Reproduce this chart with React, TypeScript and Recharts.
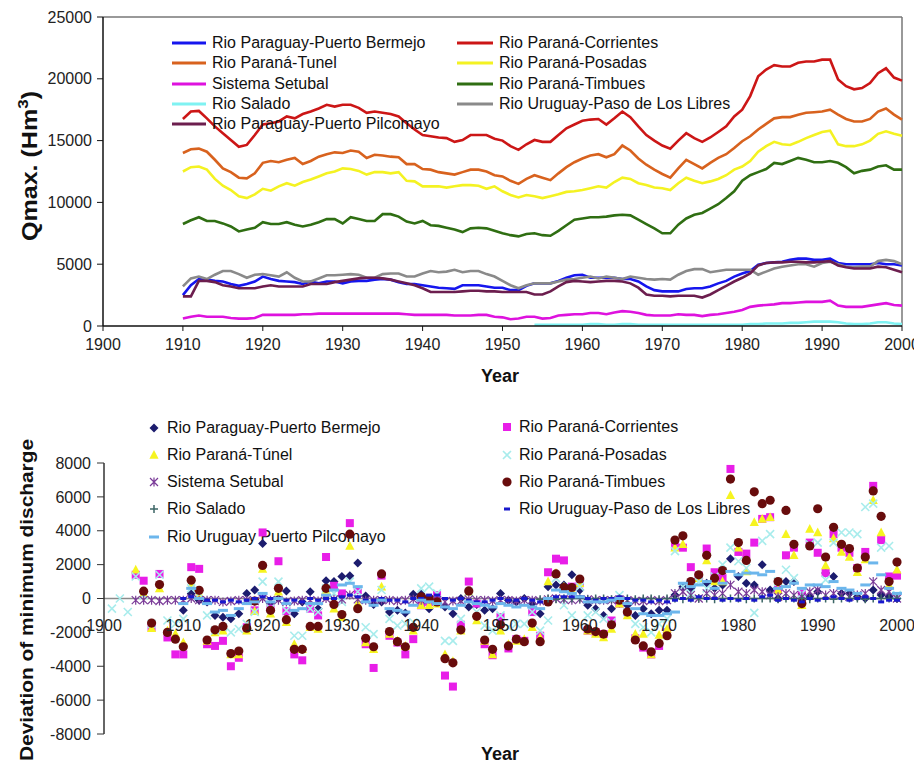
import React from 'react';
import {
  LineChart,
  Line,
  XAxis,
  YAxis,
  ReferenceLine,
  ScatterChart,
  Scatter,
  Label,
} from 'recharts';

const FONT = '"Liberation Sans", Arial, Helvetica, sans-serif';

// ---------- Upper panel: maximum discharge (Hm3), 1910-2000 ----------
const qYears = [
  1910, 1911, 1912, 1913, 1914, 1915, 1916, 1917, 1918, 1919,
  1920, 1921, 1922, 1923, 1924, 1925, 1926, 1927, 1928, 1929,
  1930, 1931, 1932, 1933, 1934, 1935, 1936, 1937, 1938, 1939,
  1940, 1941, 1942, 1943, 1944, 1945, 1946, 1947, 1948, 1949,
  1950, 1951, 1952, 1953, 1954, 1955, 1956, 1957, 1958, 1959,
  1960, 1961, 1962, 1963, 1964, 1965, 1966, 1967, 1968, 1969,
  1970, 1971, 1972, 1973, 1974, 1975, 1976, 1977, 1978, 1979,
  1980, 1981, 1982, 1983, 1984, 1985, 1986, 1987, 1988, 1989,
  1990, 1991, 1992, 1993, 1994, 1995, 1996, 1997, 1998, 1999,
  2000,
];

const qBermejo = [
  2500, 3300, 3800, 3750, 3650, 3600, 3400, 3250, 3400, 3600,
  4000, 3800, 3650, 3600, 3550, 3400, 3600, 3450, 3600, 3600,
  3450, 3600, 3650, 3650, 3750, 3800, 3750, 3550, 3400, 3400,
  3300, 3200, 3100, 3050, 3000, 3300, 3300, 3300, 3200, 3100,
  3100, 2900, 2900, 3250, 3450, 3450, 3450, 3650, 3900, 4100,
  4150, 3900, 3900, 3900, 3900, 3800, 3800, 3600, 3200, 2900,
  2800, 2800, 2800, 3000, 3050, 3050, 3200, 3450, 3650, 4000,
  4250, 4450, 4950, 5100, 5150, 5200, 5350, 5450, 5450, 5350,
  5350, 5450, 5100, 5000, 5000, 5000, 5000, 5100, 5000, 5000,
  4900,
];

const qCorrientes = [
  16750, 17350, 17400, 16800, 16150, 15600, 15050, 14500, 14650, 15450,
  16300, 16400, 16550, 16950, 16800, 17150, 17350, 17600, 17900, 17750,
  17900, 17900, 17650, 17250, 17350, 17250, 17150, 16950, 16400, 15900,
  15450, 15350, 15250, 15200, 14900, 15050, 15450, 15450, 15450, 15150,
  15000, 14550, 14250, 14700, 15050, 14900, 14900, 15450, 16000, 16300,
  16600, 16700, 16750, 16300, 16800, 17350, 16900, 16150, 15450, 15000,
  14600, 14350, 15000, 15600, 15200, 14900, 15250, 15700, 16150, 16950,
  17500, 18600, 20200, 20750, 21100, 21000, 21000, 21300, 21400, 21400,
  21550, 21550, 19950, 19400, 19150, 19250, 19650, 20450, 20850, 20100,
  19850,
];

const qTunel = [
  14000, 14300, 14350, 14100, 13450, 12750, 12450, 12000, 11950, 12350,
  13200, 13350, 13250, 13450, 13600, 13100, 13350, 13700, 13900, 14050,
  14000, 14200, 14100, 13600, 13850, 13800, 13700, 13650, 13100, 13100,
  12700, 12650, 12450, 12350, 12250, 12450, 12650, 12650, 12500, 12200,
  12100, 11750, 11500, 11900, 12200, 12000, 11800, 12350, 12850, 13250,
  13550, 13800, 13900, 13650, 13900, 14600, 14200, 13550, 13050, 12650,
  12300, 12000, 12750, 13450, 13100, 12750, 13200, 13600, 13900, 14400,
  14950, 15350, 15900, 16350, 16800, 16900, 16900, 17100, 17250, 17300,
  17350, 17500, 17100, 16750, 16550, 16550, 16750, 17350, 17600, 17100,
  16700,
];

const qPosadas = [
  12500, 12850, 12900, 12650, 11900, 11350, 11000, 10500, 10350, 10650,
  11100, 10950, 11300, 11550, 11350, 11650, 11850, 12100, 12350, 12500,
  12750, 12700, 12550, 12250, 12450, 12450, 12350, 12450, 11750, 11700,
  11300, 11300, 11300, 11200, 11300, 11400, 11400, 11350, 11100, 11300,
  10900, 10600, 10400, 10600, 10500, 10350, 10500, 10650, 10850, 10900,
  11000, 11150, 11300, 11200, 11650, 12000, 11900, 11550, 11400, 11200,
  11150, 11000, 11550, 12000, 11750, 11550, 11700, 11900, 12200, 12650,
  12900, 13350, 14100, 14550, 14900, 14700, 14650, 14900, 15200, 15450,
  15700, 15800, 14700, 14550, 14550, 14700, 15000, 15550, 15750, 15550,
  15400,
];

const qSetubal = [
  600, 750, 850, 750, 750, 750, 650, 600, 600, 650,
  900, 900, 900, 900, 900, 950, 950, 1000, 1000, 1000,
  1000, 1000, 1000, 1000, 1000, 1000, 1000, 1000, 950, 900,
  900, 900, 900, 900, 850, 850, 850, 900, 900, 750,
  700, 550, 600, 750, 750, 600, 650, 850, 900, 950,
  950, 1050, 1050, 950, 1100, 1200, 1150, 1050, 900, 850,
  850, 850, 950, 900, 900, 800, 900, 950, 1050, 1150,
  1300, 1550, 1650, 1700, 1750, 1850, 1850, 1900, 1950, 1950,
  1950, 2050, 1650, 1550, 1550, 1550, 1650, 1750, 1850, 1700,
  1650,
];

const qTimbues = [
  8250, 8550, 8800, 8500, 8500, 8300, 8050, 7650, 7800, 7950,
  8400, 8250, 8250, 8400, 8200, 8050, 8200, 8400, 8650, 8650,
  8300, 8800, 8650, 8500, 8500, 9050, 9050, 8850, 8450, 8300,
  8500, 8150, 8100, 7950, 7800, 7600, 7900, 7950, 7900, 7700,
  7500, 7350, 7250, 7450, 7500, 7350, 7300, 7700, 8150, 8600,
  8700, 8800, 8800, 8850, 8950, 9000, 8950, 8600, 8250, 7900,
  7500, 7500, 8200, 8700, 9000, 9150, 9500, 9850, 10350, 10900,
  11750, 12200, 12450, 12700, 13200, 13100, 13350, 13600, 13450, 13250,
  13250, 13350, 13200, 12850, 12350, 12550, 12650, 12900, 13000, 12650,
  12650,
];

const qSalado = [
  null, null, null, null, null, null, null, null, null, null,
  null, null, null, null, null, null, null, null, null, null,
  null, null, null, null, null, null, null, null, null, null,
  null, null, null, null, null, null, null, null, null, null,
  null, null, null, null, 100, 100, 100, 100, 100, 100,
  100, 150, 150, 100, 100, 150, 150, 100, 100, 100,
  100, 100, 100, 100, 100, 100, 100, 100, 100, 100,
  100, 150, 150, 200, 200, 200, 250, 250, 300, 350,
  350, 350, 300, 200, 150, 150, 200, 300, 300, 200,
  150,
];

const qUruguay = [
  3200, 3850, 4000, 3800, 4150, 4450, 4450, 4200, 3900, 4150,
  4200, 4100, 4000, 4350, 3900, 3600, 3600, 3850, 4100, 4100,
  4150, 4200, 4150, 3900, 3900, 4200, 4250, 4250, 4000, 4000,
  4250, 4450, 4350, 4400, 4550, 4350, 4450, 4450, 4200, 4000,
  3650, 3300, 3050, 3300, 3450, 3450, 3450, 3600, 3750, 3800,
  3900, 4000, 3850, 4000, 3900, 3800, 4000, 3900, 3800, 3750,
  3800, 3750, 4150, 4450, 4600, 4600, 4350, 4450, 4550, 4550,
  4550, 4550, 4150, 4400, 4650, 4800, 4900, 5000, 5000, 4800,
  5100, 5200, 5000, 4800, 4750, 4800, 4800, 5250, 5350, 5250,
  5000,
];

const qPilcomayo = [
  2400, 2400, 3650, 3650, 3550, 3300, 3200, 3050, 3050, 3050,
  3200, 3300, 3200, 3200, 3200, 3200, 3400, 3400, 3400, 3550,
  3650, 3750, 3850, 3900, 3900, 3850, 3750, 3600, 3450, 3300,
  3050, 2750, 2750, 2750, 2750, 2800, 2850, 2850, 2800, 2800,
  2750, 2750, 2750, 2750, 2550, 2550, 2800, 3200, 3550, 3650,
  3600, 3550, 3600, 3650, 3650, 3600, 3450, 3100, 2550, 2450,
  2450, 2400, 2450, 2450, 2450, 2300, 2550, 2900, 3250, 3600,
  3900, 4250, 4900, 5100, 5150, 5150, 5200, 5200, 5150, 5150,
  5200, 5250, 4900, 4750, 4650, 4650, 4650, 4800, 4750, 4550,
  4350,
];

const qTicksX = [1900, 1910, 1920, 1930, 1940, 1950, 1960, 1970, 1980, 1990, 2000];
const qTicksY = [0, 5000, 10000, 15000, 20000, 25000];

// ---------- Lower panel: deviation of minimum discharge, 1901-2000 ----------
const devYears = [
  1901, 1902, 1903, 1904, 1905, 1906, 1907, 1908, 1909,
  1910, 1911, 1912, 1913, 1914, 1915, 1916, 1917, 1918, 1919,
  1920, 1921, 1922, 1923, 1924, 1925, 1926, 1927, 1928, 1929,
  1930, 1931, 1932, 1933, 1934, 1935, 1936, 1937, 1938, 1939,
  1940, 1941, 1942, 1943, 1944, 1945, 1946, 1947, 1948, 1949,
  1950, 1951, 1952, 1953, 1954, 1955, 1956, 1957, 1958, 1959,
  1960, 1961, 1962, 1963, 1964, 1965, 1966, 1967, 1968, 1969,
  1970, 1971, 1972, 1973, 1974, 1975, 1976, 1977, 1978, 1979,
  1980, 1981, 1982, 1983, 1984, 1985, 1986, 1987, 1988, 1989,
  1990, 1991, 1992, 1993, 1994, 1995, 1996, 1997, 1998, 1999,
  2000,
];

const devBermejo = [
  null, null, null, null, null, null, null, null, null,
  -700, 300, -100, -200, -1000, -1100, -1200, -900, 300, 500,
  3250, -300, 0, 450, -900, -200, 400, -600, 1050, 1000,
  1300, 1350, 2100, 150, -350, -200, -800, -700, -850, 250,
  250, -600, 0, -500, -900, 0, -500, -350, -700, -600,
  300, -100, -200, 0, -300, -900, 700, 800, 800, 1400,
  500, -400, -600, -1000, -600, -300, -400, -1000, -600, -900,
  -700, -700, 200, 700, 600, 1200, 900, 600, 800, 2350,
  1300, 900, 800, 2000, 500, 0, 1000, 1000, 0, 100,
  400, 1500, 1300, 300, 300, 100, 0, 500, 200, 100,
  0,
];

const devCorrientes = [
  null, null, null, 1400, 1050, -1700, 1450, -2300, -3300,
  -3300, 1850, 1750, -2700, -2800, -2500, -4000, -3500, -1700, -700,
  3900, -600, 2200, -750, -3300, -3650, -600, -1000, 2450, 750,
  300, 4450, 500, -2700, -4100, 1350, -2200, -2600, -3300, -2400,
  -400, -200, 200, -4550, -5200, -1550, 1000, -300, -2700, -3350,
  -1100, -2950, -2400, -2500, -800, -2200, 1550, 2350, 2250, 700,
  900, -1900, -2000, -2100, -1300, -300, -800, -2350, -2900, -3300,
  -2800, -2000, 3100, 3000, 1850, 1350, 2950, 1550, 1200, 7650,
  2750, 2650, 3300, 4700, 4800, 500, 2550, 3000, 300, 3300,
  2700, 1500, 3800, 3000, 2700, 1800, 2750, 6650, 3450, 1300,
  1350,
];

const devTunel = [
  null, null, null, 1700, 300, -1750, 600, -1900, -2100,
  -2600, 800, 300, -2500, -2000, -1900, -3300, -3300, -1900, -750,
  1750, -900, 400, -1400, -2700, -3000, -1700, -1800, 500, -600,
  -1100, 3100, -300, -2600, -3000, 700, -2100, -2500, -2800, -1900,
  -400, -400, -300, -3300, -3700, -1900, 400, -1300, -2500, -3300,
  -1900, -2700, -2500, -2400, -1700, -2300, 1000, 1500, 700, 500,
  900, -1900, -2100, -2300, -1800, -300, -1000, -2100, -2100, -3300,
  -2150, -1800, 3000, 3200, 900, 1200, 2250, 1000, 1000, 6100,
  3000, 1600, 4500, 4700, 4800, 500, 3800, 2550, -400, 4100,
  3900, 1950, 3550, 2750, 2450, 1550, 2300, 5800, 3900, 800,
  1700,
];

const devPosadas = [
  -600, 0, -800, 1300, 200, -1500, 1400, -1300, -1500,
  -1200, 600, 300, -1000, -1900, -1700, -2000, -1800, -1500, -800,
  1000, -600, 1000, -700, -2200, -2200, -600, -800, 600, 300,
  -200, 1000, 400, -1700, -2100, 500, -1200, -1600, -1500, -1400,
  600, 700, 300, -2500, -2500, -1200, 400, -800, -1600, -1900,
  -1000, -1700, -1500, -1500, -800, -1900, -1300, 1200, -400, -1000,
  700, -1000, -800, -1200, -1400, 200, -800, -1500, -1700, -2000,
  -1500, -1200, 2800, 700, 300, 1000, 600, 1300, 2000, 3000,
  2200, 1800, -850, 3400, 3800, 1000, 1700, 1200, 300, 3200,
  3300, 1100, 3300, 3900, 3900, 3800, 5400, 5600, 3000, 3100,
  200,
];

const devSetubal = [
  null, null, null, -100, -100, -100, -150, -100, -100,
  -100, 0, -100, -100, -100, -200, -150, -100, -100, -150,
  0, -100, -100, -200, -150, -100, -100, -150, 0, -50,
  -50, 200, -50, -100, -100, -100, -100, -150, -100, -50,
  -100, -50, -100, -200, -150, -150, -50, -100, -100, -150,
  -100, -100, -150, -100, -100, -150, -50, 0, -50, -100,
  -50, -50, -100, -100, -100, -50, -100, -150, -150, -100,
  -150, -100, 300, 400, 200, 0, 300, 200, 300, 800,
  400, 300, 500, 400, 200, 100, 300, 200, 100, 400,
  500, 200, 300, 200, 100, 200, 300, 1000, 500, 400,
  0,
];

const devTimbues = [
  null, null, null, null, 430, -1450, 820, -2000, -2400,
  -2850, 1080, 480, -2450, -1850, -1650, -3250, -3100, -1750, -150,
  1950, -700, 600, -1250, -3000, -3000, -1650, -1650, 600, -350,
  -950, 3800, -600, -2350, -2850, 1450, -1950, -2550, -2850, -1700,
  100, 0, -200, -3550, -3800, -1850, 450, -1050, -2450, -3000,
  -1550, -2800, -2400, -2550, -1450, -2550, -200, 1450, 650, 650,
  1150, -1800, -1950, -2100, -1550, -100, -800, -2450, -2800, -3150,
  -2650, -2200, 3450, 3700, 1000, 1400, 2550, 1200, 1650, 7050,
  3300, 2250, 6300, 5600, 5800, 1000, 5200, 3200, -300, 3100,
  5300, 2450, 4200, 3200, 2950, 1800, 2450, 6350, 4850, 1000,
  2150,
];

const devSalado = [
  null, null, null, null, null, null, null, null, null,
  null, null, null, null, null, null, null, null, null, null,
  null, null, null, null, null, null, null, null, null, null,
  null, null, null, null, null, null, null, null, null, null,
  null, null, null, null, null, null, null, null, null, null,
  null, null, null, null, null, -50, 0, -50, 0, 0,
  0, -50, 0, 0, -50, 0, 0, -50, 0, 0,
  -50, 0, 0, -50, 0, 0, 0, -50, 0, 0,
  0, -50, 0, 0, 0, -50, 0, 0, 0, -50,
  0, 0, -50, 0, 0, 0, -50, 0, 0, 0,
  0,
];

const devPaso = [
  null, null, null, null, null, null, null, null, null,
  0, 100, 0, -100, -100, -200, -100, -200, -100, 0,
  100, 0, 0, -100, -100, -200, 0, -100, 0, 0,
  100, 200, 100, -100, -100, 0, -100, -100, -200, 0,
  0, 200, 200, 0, -100, 0, -100, -200, -200, -100,
  0, -100, -100, 0, -100, -200, 0, 100, 100, 100,
  100, 0, -100, 0, 0, 100, 0, -100, -100, -200,
  -100, -200, -100, 0, -100, 100, 0, 0, -100, 0,
  -100, 0, -100, 100, 200, -100, 0, -100, -200, 0,
  -100, 0, 100, 0, -100, 0, 100, 0, -200, -100,
  -100,
];

const devPilcomayo = [
  null, null, null, null, null, null, null, null, null,
  -300, 600, 0, -300, -800, -700, -1000, -600, -300, -200,
  300, -200, 0, -300, -700, -600, -300, -300, 200, 500,
  800, 900, 700, -200, -400, -100, -600, -700, -800, -400,
  -100, -200, -300, -500, -600, -400, -200, -300, -400, -500,
  -300, -400, -500, -400, -500, -600, 0, 500, 400, 300,
  100, -200, -200, -200, -100, 0, -300, -600, -900, -1000,
  -1000, -900, -800, 900, 700, 800, 1000, 600, 900, 1600,
  1400, 1500, 1500, 1400, 1600, 600, 700, 900, 600, 800,
  800, 700, 1000, 600, 500, 300, 800, 2100, 1400, 600,
  300,
];

const devTicksX = [1900, 1910, 1920, 1930, 1940, 1950, 1960, 1970, 1980, 1990, 2000];
const devTicksY = [-8000, -6000, -4000, -2000, 0, 2000, 4000, 6000, 8000];

// ---------- Styles ----------
const LINE_COLORS = {
  bermejo: '#1616ee',
  corrientes: '#cc1616',
  tunel: '#d8621e',
  posadas: '#f4f222',
  setubal: '#de12de',
  timbues: '#2f6e12',
  salado: '#7ff2f2',
  uruguay: '#8a8a8a',
  pilcomayo: '#6c1e4e',
};

const DEV_COLORS = {
  bermejo: '#1c1c6e',
  corrientes: '#e81ee8',
  tunel: '#f6f420',
  posadas: '#a8ecec',
  setubal: '#7a3a98',
  timbues: '#680c0c',
  salado: '#3c6666',
  pilcomayo: '#6cb6ec',
  paso: '#1818cc',
};

const qRows = qYears.map((year, i) => ({
  year,
  bermejo: qBermejo[i],
  corrientes: qCorrientes[i],
  tunel: qTunel[i],
  posadas: qPosadas[i],
  setubal: qSetubal[i],
  timbues: qTimbues[i],
  salado: qSalado[i],
  uruguay: qUruguay[i],
  pilcomayo: qPilcomayo[i],
}));

const toPoints = (values: (number | null)[]) =>
  devYears
    .map((x, i) => ({ x, y: values[i] }))
    .filter((d) => d.y !== null);

// ---------- Marker shapes ----------
const DiamondMark = ({ cx, cy }: any) => (
  <polygon
    points={`${cx},${cy - 4.5} ${cx + 4.5},${cy} ${cx},${cy + 4.5} ${cx - 4.5},${cy}`}
    fill={DEV_COLORS.bermejo}
  />
);
const SquareMark = ({ cx, cy }: any) => (
  <rect x={cx - 4} y={cy - 4} width={8} height={8} fill={DEV_COLORS.corrientes} />
);
const TriangleMark = ({ cx, cy }: any) => (
  <polygon
    points={`${cx},${cy - 5} ${cx + 4.6},${cy + 3.8} ${cx - 4.6},${cy + 3.8}`}
    fill={DEV_COLORS.tunel}
  />
);
const CrossMark = ({ cx, cy }: any) => (
  <path
    d={`M${cx - 4},${cy - 4}L${cx + 4},${cy + 4}M${cx - 4},${cy + 4}L${cx + 4},${cy - 4}`}
    stroke={DEV_COLORS.posadas}
    strokeWidth={1.6}
    fill="none"
  />
);
const StarMark = ({ cx, cy }: any) => (
  <path
    d={`M${cx - 4},${cy - 4}L${cx + 4},${cy + 4}M${cx - 4},${cy + 4}L${cx + 4},${cy - 4}M${cx},${cy - 4.5}L${cx},${cy + 4.5}`}
    stroke={DEV_COLORS.setubal}
    strokeWidth={1.2}
    fill="none"
  />
);
const DotMark = ({ cx, cy }: any) => <circle cx={cx} cy={cy} r={4.6} fill={DEV_COLORS.timbues} />;
const PlusMark = ({ cx, cy }: any) => (
  <path
    d={`M${cx - 4},${cy}L${cx + 4},${cy}M${cx},${cy - 4}L${cx},${cy + 4}`}
    stroke={DEV_COLORS.salado}
    strokeWidth={1.5}
    fill="none"
  />
);
const WideDashMark = ({ cx, cy }: any) => (
  <rect x={cx - 5} y={cy - 1.5} width={10} height={3} fill={DEV_COLORS.pilcomayo} />
);
const ShortDashMark = ({ cx, cy }: any) => (
  <rect x={cx - 3} y={cy - 1.5} width={6} height={3} fill={DEV_COLORS.paso} />
);

// ---------- Legends ----------
const legendText: React.CSSProperties = {
  fontFamily: FONT,
  fontSize: 16,
  color: '#111',
  whiteSpace: 'nowrap',
  lineHeight: '20px',
};

const LineKey = ({ left, top, color, len, text }: any) => (
  <div style={{ position: 'absolute', left, top, display: 'flex', alignItems: 'center', height: 20 }}>
    <svg width={len + 6} height={20} style={{ display: 'block' }}>
      <line x1={0} y1={10} x2={len} y2={10} stroke={color} strokeWidth={3} />
    </svg>
    <span style={legendText}>{text}</span>
  </div>
);

const MarkKey = ({ left, top, mark, width, text }: any) => (
  <div style={{ position: 'absolute', left, top, display: 'flex', alignItems: 'center', height: 20 }}>
    <svg width={width} height={20} style={{ display: 'block' }}>
      {mark}
    </svg>
    <span style={legendText}>{text}</span>
  </div>
);

// Lower panel year labels sit just under the zero line
const DevXTick = (p: any) => (
  <text x={p.x} y={223} textAnchor="middle" fill="#222" fontSize={16} fontFamily={FONT}>
    {p.payload.value}
  </text>
);

const tickStyle = { fill: '#222', fontSize: 16, fontFamily: FONT };

export default function App() {
  return (
    <div style={{ position: 'relative', width: 914, height: 757, fontFamily: FONT, background: '#fff' }}>
      {/* Upper panel */}
      <div style={{ position: 'absolute', left: 0, top: 0 }}>
        <LineChart width={914} height={380} data={qRows} margin={{ top: 9, right: 20, bottom: 0, left: 0 }}>
          <XAxis
            dataKey="year"
            type="number"
            domain={[1900, 2000]}
            ticks={qTicksX}
            interval={0}
            height={62}
            tickSize={5}
            tickMargin={8}
            axisLine={{ stroke: '#111', strokeWidth: 1.5 }}
            tickLine={{ stroke: '#111' }}
            tick={tickStyle}
          >
            <Label
              content={() => (
                <text x={492} y={374} textAnchor="middle" fontSize={18} fontWeight="bold" fontFamily={FONT} fill="#111">
                  Year
                </text>
              )}
            />
          </XAxis>
          <YAxis
            type="number"
            domain={[0, 25000]}
            ticks={qTicksY}
            interval={0}
            width={95}
            tickSize={6}
            tickMargin={5}
            axisLine={{ stroke: '#111', strokeWidth: 1.5 }}
            tickLine={{ stroke: '#111' }}
            tick={tickStyle}
          >
            <Label
              content={() => (
                <text
                  x={29}
                  y={158}
                  transform="rotate(-90 29 158)"
                  textAnchor="middle"
                  fontSize={22}
                  fontWeight="bold"
                  fontFamily={FONT}
                  fill="#111"
                  textLength={150}
                  lengthAdjust="spacingAndGlyphs"
                >
                  Qmax. (Hm
                  <tspan dy={-9} fontSize={15}>3</tspan>
                  <tspan dy={9}>)</tspan>
                </text>
              )}
            />
          </YAxis>
          <ReferenceLine y={25000} stroke="#777" strokeWidth={1.5} />
          <ReferenceLine x={2000} stroke="#777" strokeWidth={1.5} />
          <Line type="linear" dataKey="bermejo" stroke={LINE_COLORS.bermejo} strokeWidth={2.6} dot={false} isAnimationActive={false} />
          <Line type="linear" dataKey="corrientes" stroke={LINE_COLORS.corrientes} strokeWidth={2.6} dot={false} isAnimationActive={false} />
          <Line type="linear" dataKey="tunel" stroke={LINE_COLORS.tunel} strokeWidth={2.6} dot={false} isAnimationActive={false} />
          <Line type="linear" dataKey="posadas" stroke={LINE_COLORS.posadas} strokeWidth={2.6} dot={false} isAnimationActive={false} />
          <Line type="linear" dataKey="setubal" stroke={LINE_COLORS.setubal} strokeWidth={2.6} dot={false} isAnimationActive={false} />
          <Line type="linear" dataKey="timbues" stroke={LINE_COLORS.timbues} strokeWidth={2.6} dot={false} isAnimationActive={false} />
          <Line type="linear" dataKey="salado" stroke={LINE_COLORS.salado} strokeWidth={2.6} dot={false} isAnimationActive={false} />
          <Line type="linear" dataKey="uruguay" stroke={LINE_COLORS.uruguay} strokeWidth={2.6} dot={false} isAnimationActive={false} />
          <Line type="linear" dataKey="pilcomayo" stroke={LINE_COLORS.pilcomayo} strokeWidth={2.6} dot={false} isAnimationActive={false} />
        </LineChart>
      </div>

      {/* Upper legend */}
      <LineKey left={164} top={25} len={34} color={LINE_COLORS.bermejo} text="Rio Paraguay-Puerto Bermejo" />
      <LineKey left={164} top={45} len={34} color={LINE_COLORS.tunel} text="Rio Paraná-Tunel" />
      <LineKey left={164} top={66} len={34} color={LINE_COLORS.setubal} text="Sistema Setubal" />
      <LineKey left={164} top={86} len={34} color={LINE_COLORS.salado} text="Rio Salado" />
      <LineKey left={164} top={106} len={34} color={LINE_COLORS.pilcomayo} text="Rio Paraguay-Puerto Pilcomayo" />
      <LineKey left={449} top={25} len={36} color={LINE_COLORS.corrientes} text="Rio Paraná-Corrientes" />
      <LineKey left={449} top={45} len={36} color={LINE_COLORS.posadas} text="Rio Paraná-Posadas" />
      <LineKey left={449} top={66} len={36} color={LINE_COLORS.timbues} text="Rio Paraná-Timbues" />
      <LineKey left={449} top={86} len={36} color={LINE_COLORS.uruguay} text="Rio Uruguay-Paso de Los Libres" />

      {/* Lower legend (markers are drawn above it) */}
      <MarkKey left={139} top={410} width={20} mark={<DiamondMark cx={7} cy={10} />} text="Rio Paraguay-Puerto Bermejo" />
      <MarkKey left={139} top={437} width={20} mark={<TriangleMark cx={7} cy={10} />} text="Rio Paraná-Túnel" />
      <MarkKey left={139} top={464} width={20} mark={<StarMark cx={7} cy={10} />} text="Sistema Setubal" />
      <MarkKey left={139} top={491} width={20} mark={<PlusMark cx={7} cy={10} />} text="Rio Salado" />
      <MarkKey left={139} top={519} width={20} mark={<WideDashMark cx={7} cy={10} />} text="Rio Uruguay Puerto Pilcomayo" />
      <MarkKey left={492} top={409} width={19} mark={<SquareMark cx={7} cy={10} />} text="Rio Paraná-Corrientes" />
      <MarkKey left={492} top={437} width={19} mark={<CrossMark cx={7} cy={10} />} text="Rio Paraná-Posadas" />
      <MarkKey left={492} top={464} width={19} mark={<DotMark cx={7} cy={10} />} text="Rio Paraná-Timbues" />
      <MarkKey left={492} top={491} width={19} mark={<ShortDashMark cx={7} cy={10} />} text="Rio Uruguay-Paso de Los Libres" />

      {/* Lower panel */}
      <div style={{ position: 'absolute', left: 0, top: 400 }}>
        <ScatterChart width={914} height={360} margin={{ top: 55, right: 25, bottom: 4, left: 0 }}>
          <XAxis
            type="number"
            dataKey="x"
            domain={[1900, 2000]}
            ticks={devTicksX}
            interval={0}
            height={30}
            axisLine={false}
            tickLine={false}
            tick={DevXTick}
          >
            <Label
              content={() => (
                <text x={492} y={352} textAnchor="middle" fontSize={18} fontWeight="bold" fontFamily={FONT} fill="#111">
                  Year
                </text>
              )}
            />
          </XAxis>
          <YAxis
            type="number"
            dataKey="y"
            domain={[-8000, 8000]}
            ticks={devTicksY}
            interval={0}
            width={96}
            tickSize={7}
            tickMargin={6}
            axisLine={{ stroke: '#333', strokeWidth: 1.5 }}
            tickLine={{ stroke: '#333' }}
            tick={tickStyle}
          >
            <Label
              content={() => (
                <text
                  x={25}
                  y={192}
                  transform="rotate(-90 25 192)"
                  textAnchor="middle"
                  fontSize={19}
                  fontWeight="bold"
                  fontFamily={FONT}
                  fill="#111"
                  textLength={322}
                  lengthAdjust="spacingAndGlyphs"
                >
                  Deviation of minimum discharge
                </text>
              )}
            />
          </YAxis>
          <ReferenceLine y={0} stroke="#8a8a8a" strokeWidth={1.5} />
          <Scatter name="Rio Paraguay-Puerto Bermejo" data={toPoints(devBermejo)} shape={DiamondMark} isAnimationActive={false} />
          <Scatter name="Rio Paraná-Corrientes" data={toPoints(devCorrientes)} shape={SquareMark} isAnimationActive={false} />
          <Scatter name="Rio Paraná-Túnel" data={toPoints(devTunel)} shape={TriangleMark} isAnimationActive={false} />
          <Scatter name="Rio Paraná-Posadas" data={toPoints(devPosadas)} shape={CrossMark} isAnimationActive={false} />
          <Scatter name="Sistema Setubal" data={toPoints(devSetubal)} shape={StarMark} isAnimationActive={false} />
          <Scatter name="Rio Paraná-Timbues" data={toPoints(devTimbues)} shape={DotMark} isAnimationActive={false} />
          <Scatter name="Rio Salado" data={toPoints(devSalado)} shape={PlusMark} isAnimationActive={false} />
          <Scatter name="Rio Uruguay-Paso de Los Libres" data={toPoints(devPaso)} shape={ShortDashMark} isAnimationActive={false} />
          <Scatter name="Rio Uruguay Puerto Pilcomayo" data={toPoints(devPilcomayo)} shape={WideDashMark} isAnimationActive={false} />
        </ScatterChart>
      </div>
    </div>
  );
}
